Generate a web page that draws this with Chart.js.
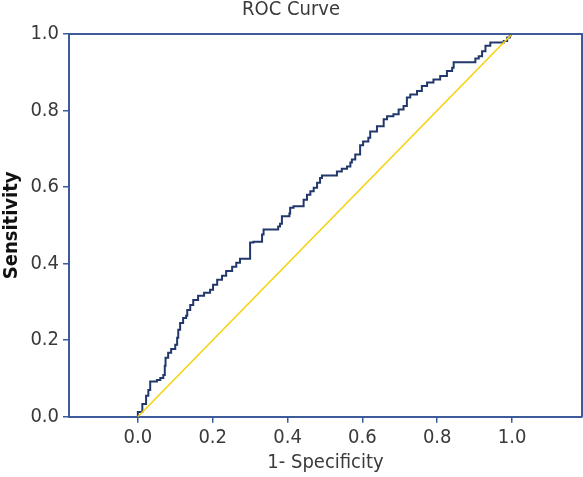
<!DOCTYPE html>
<html>
<head>
<meta charset="utf-8">
<script src="https://cdn.jsdelivr.net/npm/chart.js@4.4.1/dist/chart.umd.min.js"></script>
<style>
  html, body { margin: 0; padding: 0; background: #fff; }
  #wrap { width: 583px; height: 477px; }
</style>
</head>
<body>
<div id="wrap"><canvas id="roc"></canvas></div>
<script>
const FONT = "'Liberation Sans Narrow', 'DejaVu Sans Condensed', 'Roboto', sans-serif";

// ROC curve (step corners: 1 - specificity, sensitivity)
const fpr = [
  0.000, 0.000, 0.012, 0.022, 0.028, 0.033, 0.051, 0.060, 0.068, 0.072,
  0.074, 0.081, 0.089, 0.100, 0.105, 0.108, 0.113, 0.121, 0.129, 0.132,
  0.140, 0.148, 0.161, 0.177, 0.193, 0.201, 0.212, 0.225, 0.236, 0.252,
  0.263, 0.273, 0.300, 0.309, 0.332, 0.336, 0.375, 0.380, 0.385, 0.405,
  0.407, 0.416, 0.443, 0.452, 0.461, 0.470, 0.479, 0.487, 0.492, 0.532,
  0.545, 0.559, 0.568, 0.572, 0.581, 0.594, 0.602, 0.616, 0.621, 0.639,
  0.657, 0.666, 0.683, 0.697, 0.710, 0.719, 0.728, 0.746, 0.759, 0.773,
  0.790, 0.808, 0.826, 0.840, 0.844, 0.902, 0.911, 0.920, 0.929, 0.942,
  0.978, 0.987, 0.994, 0.997, 1.000
];
const tpr = [
  0.000, 0.012, 0.033, 0.055, 0.070, 0.092, 0.096, 0.101, 0.109, 0.133,
  0.154, 0.167, 0.177, 0.188, 0.206, 0.227, 0.245, 0.258, 0.264, 0.279,
  0.292, 0.305, 0.316, 0.324, 0.332, 0.345, 0.358, 0.368, 0.381, 0.392,
  0.402, 0.413, 0.455, 0.457, 0.476, 0.489, 0.497, 0.504, 0.524, 0.531,
  0.546, 0.550, 0.567, 0.580, 0.589, 0.598, 0.611, 0.624, 0.630, 0.641,
  0.648, 0.654, 0.664, 0.672, 0.685, 0.709, 0.719, 0.729, 0.745, 0.759,
  0.777, 0.785, 0.790, 0.803, 0.812, 0.834, 0.842, 0.851, 0.864, 0.873,
  0.881, 0.890, 0.903, 0.912, 0.926, 0.936, 0.942, 0.955, 0.969, 0.978,
  0.982, 0.991, 0.997, 1.000, 1.000
];

// reference (chance) line
const refX = [0, 1];
const refY = [0, 1];

const xTicks = [0.0, 0.2, 0.4, 0.6, 0.8, 1.0];
const yTicks = [0.0, 0.2, 0.4, 0.6, 0.8, 1.0];

const AXIS_BLUE = '#3d5a9b';
const TEXT_GREY = '#3a3a3a';

// top and right sides of the frame
const frameBox = {
  id: 'frameBox',
  afterDraw(chart) {
    const { ctx, chartArea: a } = chart;
    ctx.save();
    ctx.strokeStyle = AXIS_BLUE;
    ctx.lineWidth = 2;
    ctx.beginPath();
    ctx.moveTo(a.left, a.top);
    ctx.lineTo(a.right, a.top);
    ctx.lineTo(a.right, a.bottom);
    ctx.stroke();
    ctx.restore();
  }
};

new Chart(document.getElementById('roc'), {
  type: 'line',
  data: {
    datasets: [
      {
        label: 'Reference',
        data: refX.map((x, i) => ({ x, y: refY[i] })),
        borderColor: '#f5d312',
        borderWidth: 1.6,
        pointRadius: 0,
        tension: 0
      },
      {
        label: 'ROC',
        data: fpr.map((x, i) => ({ x, y: tpr[i] })),
        borderColor: '#22386c',
        borderWidth: 2,
        pointRadius: 0,
        stepped: 'before',
        tension: 0
      }
    ]
  },
  options: {
    responsive: true,
    maintainAspectRatio: false,
    animation: false,
    layout: { padding: { top: 0, right: 1, bottom: 0, left: 0 } },
    plugins: {
      legend: { display: false },
      tooltip: { enabled: false },
      title: {
        display: true,
        text: 'ROC Curve',
        color: TEXT_GREY,
        font: { family: FONT, size: 20, weight: 'normal', lineHeight: 1 },
        padding: { top: 0, bottom: 14 }
      }
    },
    scales: {
      x: {
        type: 'linear',
        min: -0.184,
        max: 1.187,
        afterBuildTicks: s => { s.ticks = xTicks.map(v => ({ value: v })); },
        afterFit: s => { s.height = 60.3; },
        border: { color: AXIS_BLUE, width: 2 },
        grid: { drawOnChartArea: false, drawTicks: true, tickLength: 6, color: AXIS_BLUE, lineWidth: 1.5 },
        ticks: {
          color: TEXT_GREY,
          padding: 3,
          maxRotation: 0,
          font: { family: FONT, size: 20 },
          callback: v => Number(v).toFixed(1)
        },
        title: {
          display: true,
          text: '1- Specificity',
          color: TEXT_GREY,
          padding: { top: 0, bottom: 2 },
          font: { family: FONT, size: 20 }
        }
      },
      y: {
        type: 'linear',
        min: 0,
        max: 1,
        afterBuildTicks: s => { s.ticks = yTicks.map(v => ({ value: v })); },
        afterFit: s => { s.width = 69; },
        border: { color: AXIS_BLUE, width: 2 },
        grid: { drawOnChartArea: false, drawTicks: true, tickLength: 6, color: AXIS_BLUE, lineWidth: 1.5 },
        ticks: {
          color: TEXT_GREY,
          padding: 4,
          font: { family: FONT, size: 20 },
          callback: v => Number(v).toFixed(1)
        },
        title: {
          display: true,
          text: 'Sensitivity',
          color: '#111',
          padding: 0,
          font: { family: FONT, size: 20, weight: 'bold' }
        }
      }
    }
  },
  plugins: [frameBox]
});
</script>
</body>
</html>
